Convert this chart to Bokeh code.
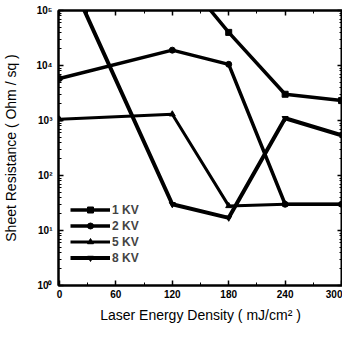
from bokeh.plotting import figure
from bokeh.models import Range1d, LogAxis, LinearAxis, FixedTicker, CustomJSTickFormatter, Legend, LegendItem
from bokeh.embed import file_html
from bokeh.resources import INLINE

# ---- data ----
series_names = ["1 KV", "2 KV", "5 KV", "8 KV"]
markers = ["square", "circle", "triangle", "inverted_triangle"]

kv1_x = [120, 180, 240, 300]
kv1_y = [7.0e5, 4.0e4, 3.0e3, 2.3e3]

kv2_x = [0, 120, 180, 240, 300]
kv2_y = [5.8e3, 1.9e4, 1.05e4, 30, 30]

kv5_x = [0, 120, 180, 240, 300]
kv5_y = [1.05e3, 1.3e3, 28, 30, 30]

kv8_x = [0, 120, 180, 240, 300]
kv8_y = [1.0e6, 30, 17, 1.1e3, 540]

x_ticks = [0, 60, 120, 180, 240, 300]
x_minor = [30, 90, 150, 210, 270]
y_ticks = [1, 10, 100, 1000, 10000, 100000]
y_tick_labels = ["10\u2070", "10\u00b9", "10\u00b2", "10\u00b3", "10\u2074", "10\u2075"]

FONT = "Liberation Sans"

p = figure(width=342, height=325, y_axis_type="log",
           x_range=Range1d(-1, 301), y_range=Range1d(1, 1e5),
           output_backend="svg", toolbar_location=None,
           min_border_left=55, min_border_right=0, min_border_top=10, min_border_bottom=4)

p.xgrid.visible = False
p.ygrid.visible = False
p.outline_line_color = "black"
p.outline_line_width = 2
p.background_fill_color = "white"
p.border_fill_color = "white"

y_minor = [m * 10 ** d for d in range(5) for m in range(2, 10)]

def style_axis(ax):
    ax.axis_line_width = 2
    ax.axis_line_color = "black"
    ax.major_tick_in = 5
    ax.major_tick_out = 0
    ax.minor_tick_in = 3
    ax.minor_tick_out = 0
    ax.major_tick_line_width = 1.5
    ax.minor_tick_line_width = 1
    ax.major_label_text_font = FONT
    ax.major_label_text_font_style = "bold"
    ax.major_label_text_font_size = "10px"
    ax.major_label_text_color = "black"
    ax.axis_label_text_font = FONT
    ax.axis_label_text_font_size = "14px"
    ax.axis_label_text_font_style = "normal"
    ax.axis_label_text_color = "black"

xa = p.xaxis[0]
xa.ticker = FixedTicker(ticks=x_ticks, minor_ticks=x_minor)
xa.axis_label = "Laser Energy Density ( mJ/cm\u00b2 )"
style_axis(xa)
xa.major_label_standoff = 4
xa.axis_label_standoff = 6

ya = p.yaxis[0]
ya.ticker = FixedTicker(ticks=y_ticks, minor_ticks=y_minor)
ya.major_label_overrides = {t: l for t, l in zip(y_ticks, y_tick_labels)}
ya.axis_label = "Sheet Resistance ( Ohm / sq )"
style_axis(ya)
ya.major_label_standoff = 6
ya.axis_label_standoff = 14

blank = CustomJSTickFormatter(code="return '';")
top = LinearAxis(ticker=FixedTicker(ticks=x_ticks, minor_ticks=x_minor), formatter=blank)
style_axis(top)
top.major_label_standoff = 0
p.add_layout(top, "above")
right = LogAxis(ticker=FixedTicker(ticks=y_ticks, minor_ticks=y_minor), formatter=blank)
style_axis(right)
right.major_label_standoff = 0
p.add_layout(right, "right")

xs = [kv1_x, kv2_x, kv5_x, kv8_x]
ys = [kv1_y, kv2_y, kv5_y, kv8_y]
widths = [3.5, 3.5, 3, 4]
items = []
for name, mk, sx, sy, w in zip(series_names, markers, xs, ys, widths):
    ln = p.line(sx, sy, line_color="black", line_width=w)
    sc = p.scatter(sx, sy, marker=mk, size=6, fill_color="black", line_color="black")
    items.append(LegendItem(label=name, renderers=[ln, sc]))

legend = Legend(items=items, location=(12, 20))
legend.border_line_color = None
legend.background_fill_alpha = 0
legend.glyph_width = 40
legend.glyph_height = 15
legend.label_height = 15
legend.spacing = 1
legend.padding = 2
legend.margin = 0
legend.label_standoff = 2
legend.label_text_font = FONT
legend.label_text_font_size = "12px"
legend.label_text_font_style = "bold"
p.add_layout(legend, "center")

with open("out.html", "w", encoding="utf-8") as f:
    f.write(file_html(p, INLINE))
